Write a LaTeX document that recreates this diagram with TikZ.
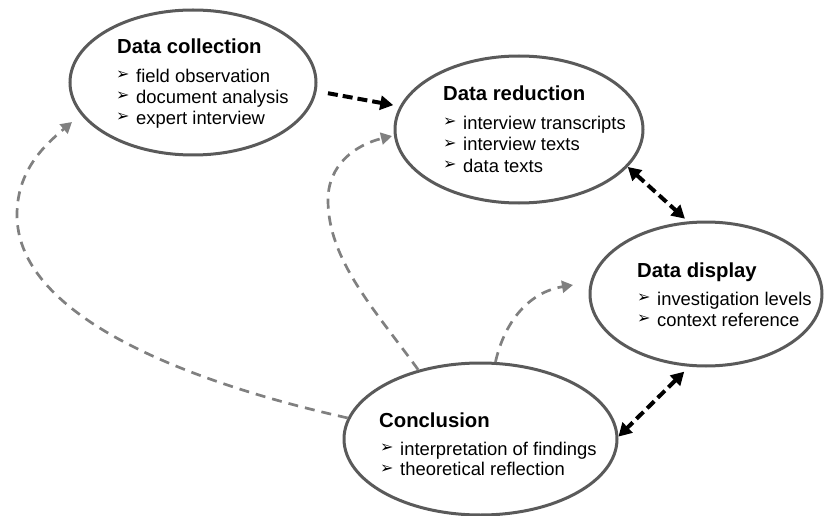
\documentclass[tikz,border=0pt]{standalone}
\usepackage{fontspec}
\setmainfont{Liberation Sans}
\newfontfamily\symfont{DejaVu Sans}
\usetikzlibrary{shapes.geometric,arrows.meta}
\definecolor{rim}{HTML}{5A5A5A}
\definecolor{loopgray}{HTML}{808080}

\begin{document}
\begin{tikzpicture}[x=1pt,y=-1pt,
  stage/.style={ellipse, draw=rim, line width=3pt, fill=white, inner sep=0pt},
  heading/.style={anchor=base west, inner sep=0pt, font=\fontsize{20.3pt}{24pt}\selectfont\bfseries},
  entry/.style={anchor=base west, inner sep=0pt, font=\fontsize{18.4pt}{22pt}\selectfont},
  bullet/.style={anchor=base west, inner sep=0pt, font=\symfont\fontsize{16pt}{16pt}\selectfont},
  mainflow/.style={draw=black, line width=4pt, dash pattern=on 10pt off 5pt},
  feedback/.style={draw=loopgray, line width=2.7pt, dash pattern=on 10pt off 7pt},
  bigtip/.tip={Triangle[length=13pt,width=14pt]},
  smalltip/.tip={Triangle[length=11pt,width=12pt]},
  % one list line: bullet at the given point, entry text 20pt further right
  pics/listline/.style={code={
    \node[bullet] (-b) at (0,-2.5) {➢};
    \node[entry] (-t) at (20,0) {#1};
  }}
]
\useasboundingbox (0,0) rectangle (825,516);

% stages
\node[stage, minimum width=246pt, minimum height=145pt] (dc) at (193,82.5) {};
\node[stage, minimum width=248pt, minimum height=147pt] (dr) at (519,129.5) {};
\node[stage, minimum width=232pt, minimum height=144pt] (dd) at (706,294) {};
\node[stage, minimum width=273pt, minimum height=152pt] (cc) at (480.5,439) {};

% Data collection
\node[heading] (dct) at (117,54) {Data collection};
\pic (dc1) at (116,82.5) {listline={field observation}};
\pic (dc2) at (116,103.5) {listline={document analysis}};
\pic (dc3) at (116,124.5) {listline={expert interview}};

% Data reduction
\node[heading] (drt) at (443,101) {Data reduction};
\pic (dr1) at (443,129.3) {listline={interview transcripts}};
\pic (dr2) at (443,150.7) {listline={interview texts}};
\pic (dr3) at (443,172) {listline={data texts}};

% Data display
\node[heading] (ddt) at (637,277) {Data display};
\pic (dd1) at (637,305) {listline={investigation levels}};
\pic (dd2) at (637,326) {listline={context reference}};

% Conclusion
\node[heading] (cct) at (379,427) {Conclusion};
\pic (cc1) at (380,455) {listline={interpretation of findings}};
\pic (cc2) at (380,475.5) {listline={theoretical reflection}};

% main flow
\draw[mainflow, -bigtip, shorten <=11.5pt, shorten >=6.5pt] (dc.-4.45) -- (dr.169);
\draw[mainflow, bigtip-bigtip, shorten >=4pt] (dr.-19.9) -- (dd.104);
\draw[mainflow, bigtip-bigtip, shorten <=7pt] (dd.-103.5) -- (cc.1.67);

% feedback loops
\coordinate (backA) at (72,122);
\coordinate (backB) at (392,136);
\coordinate (backC) at (573,285);
\draw[feedback, -smalltip] (cc.171.5) .. controls (200,385) and (17,320) .. (17,215)
  .. controls (17,170) and (45,145) .. (backA);
\draw[feedback, -smalltip] (cc.132.2) .. controls (375,310) and (328,260) .. (328,200)
  .. controls (328,165) and (355,145) .. (backB);
\draw[feedback, -smalltip] (cc.79.2) .. controls (505,320) and (530,292) .. (backC);
\end{tikzpicture}
\end{document}
